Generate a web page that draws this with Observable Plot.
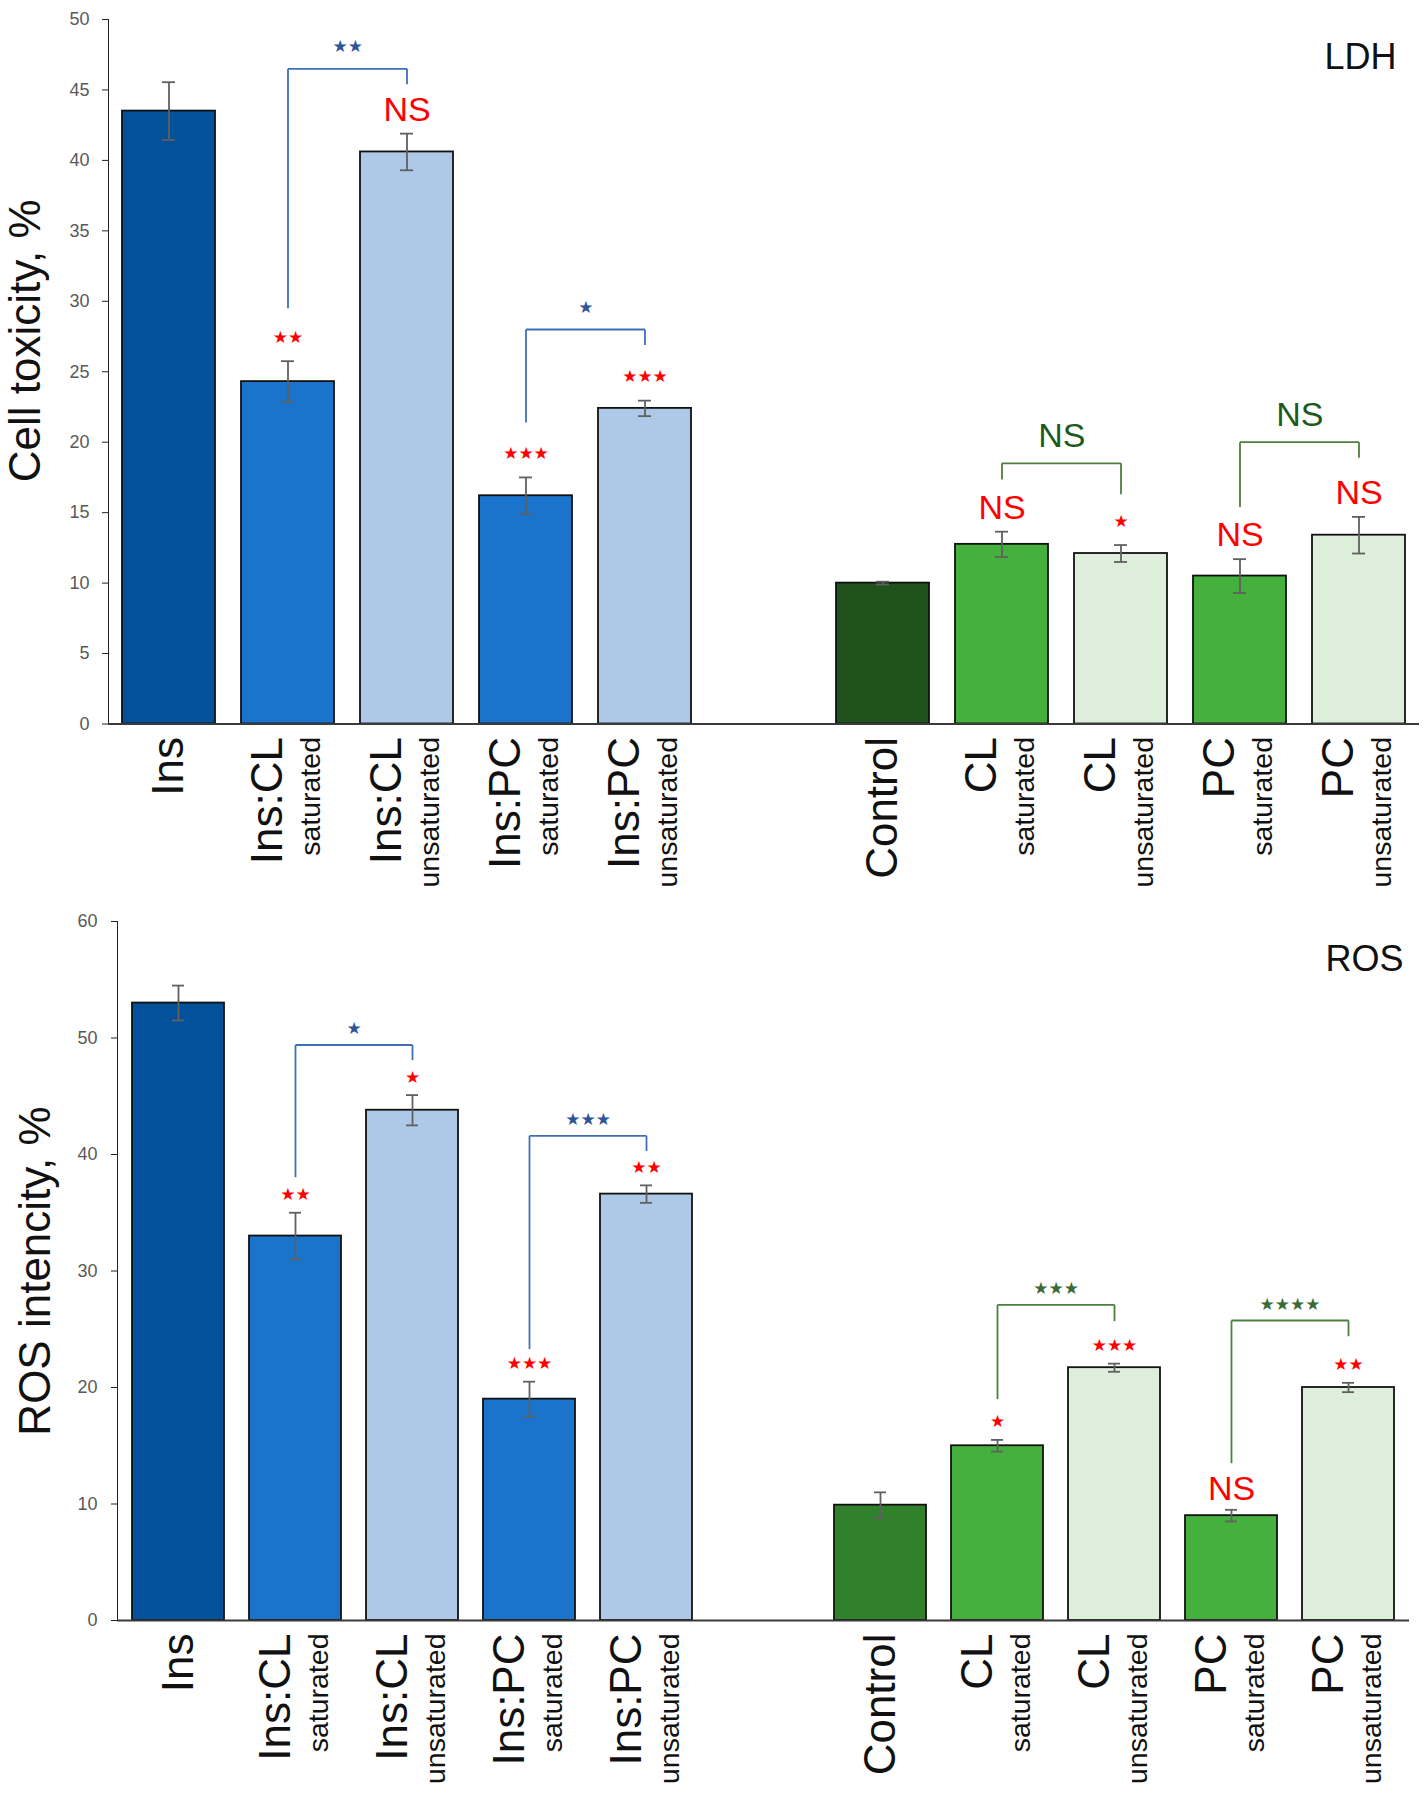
<!DOCTYPE html>
<html><head><meta charset="utf-8">
<script src="https://cdn.jsdelivr.net/npm/d3@7"></script>
<script src="https://cdn.jsdelivr.net/npm/@observablehq/plot@0.6"></script>
<style>
html,body{margin:0;padding:0;background:#fff;}
#chart svg{display:block;}
g[aria-label^="y-axis"] text{fill:#595959;}
</style></head><body><div id="chart"></div>
<script>
// ---- data ----
const groupKeys = ["Ins","Ins:CL sat","Ins:CL unsat","Ins:PC sat","Ins:PC unsat","Control","CL sat","CL unsat","PC sat","PC unsat"];
const mainLabels = ["Ins","Ins:CL","Ins:CL","Ins:PC","Ins:PC","Control","CL","CL","PC","PC"];
const subLabels = ["","saturated","unsaturated","saturated","unsaturated","","saturated","unsaturated","saturated","unsaturated"];
const slotOrder = [...groupKeys.slice(0,5), "gap", ...groupKeys.slice(5)];

const ldhMean = [43.5, 24.3, 40.6, 16.2, 22.4, 10.0, 12.75, 12.1, 10.5, 13.4];
const ldhErr  = [2.05, 1.45, 1.3, 1.3, 0.55, 0.1, 0.9, 0.6, 1.2, 1.3];
const ldhSig  = ["", "★★", "NS", "★★★", "★★★", "", "NS", "★", "NS", "NS"];

const rosMean = [53.0, 33.0, 43.8, 19.0, 36.6, 9.9, 15.0, 21.7, 9.0, 20.0];
const rosErr  = [1.5, 2.0, 1.3, 1.5, 0.75, 1.1, 0.5, 0.35, 0.5, 0.4];
const rosSig  = ["", "★★", "★", "★★★", "★★", "", "★", "★★★", "NS", "★★"];

const bracketPairs = [[1,2],[3,4],[6,7],[8,9]];
const ldhBracketTop   = [46.5, 28.0, 18.5, 20.0];
const ldhBracketLeft  = [29.5, 21.4, 17.35, 15.4];
const ldhBracketRight = [45.4, 26.9, 16.3, 18.9];
const ldhBracketLabel = ["★★", "★", "NS", "NS"];

const rosBracketTop   = [49.4, 41.6, 27.1, 25.75];
const rosBracketLeft  = [38.05, 23.3, 19.0, 13.5];
const rosBracketRight = [48.1, 40.3, 25.7, 24.4];
const rosBracketLabel = ["★", "★★★", "★★★", "★★★★"];

// ---- styles ----
const ldhColors = ["#02519A","#1B74CC","#AEC8E8","#1B74CC","#AEC8E8","#1F531B","#45B03D","#DDEFDA","#45B03D","#DDEFDA"];
const rosColors = ["#02519A","#1B74CC","#AEC8E8","#1B74CC","#AEC8E8","#31812C","#45B03D","#DDEFDA","#45B03D","#DDEFDA"];
const blueLine = "#3F6FB9", blueText = "#2F5597", greenLine = "#4E7F3E", greenText = "#1E5A1E", greenStar = "#3A6B35";

function makeChart(cfg) {
  const rows = groupKeys.map((key, i) => ({
    key, main: mainLabels[i], sub: subLabels[i], mean: cfg.mean[i], err: cfg.err[i], sig: cfg.sig[i], tint: cfg.colors[i]
  }));
  const segs = [], blabels = [];
  bracketPairs.forEach(([a, b], i) => {
    const xa = groupKeys[a], xb = groupKeys[b], t = cfg.brTop[i];
    const blue = a < 5;
    const color = blue ? blueLine : greenLine;
    segs.push({x1: xa, x2: xa, y1: cfg.brLeft[i], y2: t, color},
              {x1: xa, x2: xb, y1: t, y2: t, color},
              {x1: xb, x2: xb, y1: t, y2: cfg.brRight[i], color});
    blabels.push({x: xa, y: t, text: cfg.brLabel[i], color: blue ? blueText : (cfg.brLabel[i] === "NS" ? greenText : greenStar)});
  });
  const L = cfg.layout;
  const n = slotOrder.length;
  const step = (1424 - L.ml - L.mr) / (n - L.pi + 2 * L.po);
  const half = step / 2;
  const stars = d => d.sig && d.sig !== "NS";
  return Plot.plot({
    width: 1424, height: 900,
    marginLeft: L.ml, marginRight: L.mr, marginTop: L.mt, marginBottom: L.mb,
    style: {fontSize: "18px", fontFamily: "Liberation Sans, Arial, sans-serif", color: "#222", background: "white", overflow: "visible"},
    x: {domain: slotOrder, paddingInner: L.pi, paddingOuter: L.po, axis: null},
    y: {domain: [0, cfg.yMax], ticks: cfg.yMax / cfg.yStep, tickSize: 6, tickPadding: L.tp, line: true, label: null},
    color: {type: "identity"},
    marks: [
      Plot.barY(rows, {x: "key", y: "mean", fill: "tint", stroke: "#111", strokeWidth: 1.8}),
      Plot.link(rows, {x1: "key", x2: "key", y1: d => d.mean - d.err, y2: d => d.mean + d.err, stroke: "#606060", strokeWidth: 1.8}),
      Plot.tickY(rows, {x: "key", y: d => d.mean + d.err, inset: 40, stroke: "#606060", strokeWidth: 1.8}),
      Plot.tickY(rows, {x: "key", y: d => d.mean - d.err, inset: 40, stroke: "#606060", strokeWidth: 1.8}),
      Plot.ruleY([0], {stroke: "#3a3a3a", strokeWidth: 2}),
      Plot.text(rows.filter(stars), {x: "key", y: d => d.mean + d.err, text: "sig", fill: "#FF0000", fontSize: 17, fontFamily: "DejaVu Sans", dy: cfg.sigDy}),
      Plot.text(rows.filter(d => d.sig === "NS"), {x: "key", y: d => d.mean + d.err, text: "sig", fill: "#FF0000", fontSize: 34, dy: cfg.nsDy}),
      Plot.link(segs, {x1: "x1", x2: "x2", y1: "y1", y2: "y2", stroke: "color", strokeWidth: 1.8}),
      Plot.text(blabels.filter(d => d.text !== "NS"), {x: "x", y: "y", text: "text", fill: "color", fontSize: 17, fontFamily: "DejaVu Sans", dx: half, dy: cfg.brStarDy}),
      Plot.text(blabels.filter(d => d.text === "NS"), {x: "x", y: "y", text: "text", fill: "color", fontSize: 34, dx: half, dy: cfg.brNsDy}),
      Plot.text(rows.filter(d => !d.sub), {x: "key", text: "main", frameAnchor: "bottom", rotate: -90, textAnchor: "end", lineAnchor: "middle", dy: 13, dx: 0, fontSize: 44, fill: "#111"}),
      Plot.text(rows.filter(d => d.sub), {x: "key", text: "main", frameAnchor: "bottom", rotate: -90, textAnchor: "end", lineAnchor: "middle", dy: 13, dx: -20, fontSize: 44, fill: "#111"}),
      Plot.text(rows.filter(d => d.sub), {x: "key", text: "sub", frameAnchor: "bottom", rotate: -90, textAnchor: "end", lineAnchor: "middle", dy: 13, dx: 23, fontSize: 28.5, fill: "#111"}),
      Plot.text([cfg.yLabel], {text: d => d, frameAnchor: "left", rotate: -90, textAnchor: "middle", lineAnchor: "middle", dx: L.labDx, dy: L.labDy, fontSize: 44, fill: "#111"}),
      Plot.text([cfg.title], {text: d => d, frameAnchor: "top-right", textAnchor: "end", lineAnchor: "middle", dx: L.titleDx, dy: L.titleDy, fontSize: 36, fill: "#111"})
    ]
  });
}

const ldhChart = makeChart({
  mean: ldhMean, err: ldhErr, sig: ldhSig, colors: ldhColors,
  brTop: ldhBracketTop, brLeft: ldhBracketLeft, brRight: ldhBracketRight, brLabel: ldhBracketLabel,
  yMax: 50, yStep: 5, yLabel: "Cell toxicity, %", title: "LDH",
  sigDy: -24, nsDy: -24, brStarDy: -22, brNsDy: -27,
  layout: {ml: 108, mr: 5, mt: 19, mb: 176.5, pi: 0.22, po: 0.095, tp: 13, labDx: -83, labDy: -31, titleDx: -23, titleDy: 38}
});
const rosChart = makeChart({
  mean: rosMean, err: rosErr, sig: rosSig, colors: rosColors,
  brTop: rosBracketTop, brLeft: rosBracketLeft, brRight: rosBracketRight, brLabel: rosBracketLabel,
  yMax: 60, yStep: 10, yLabel: "ROS intencity, %", title: "ROS",
  sigDy: -18, nsDy: -21, brStarDy: -16, brNsDy: -20,
  layout: {ml: 117, mr: 15, mt: 21, mb: 180, pi: 0.215, po: 0.12, tp: 14, labDx: -82, labDy: 0, titleDx: -6, titleDy: 38}
});
document.getElementById("chart").append(ldhChart, rosChart);
</script></body></html>
